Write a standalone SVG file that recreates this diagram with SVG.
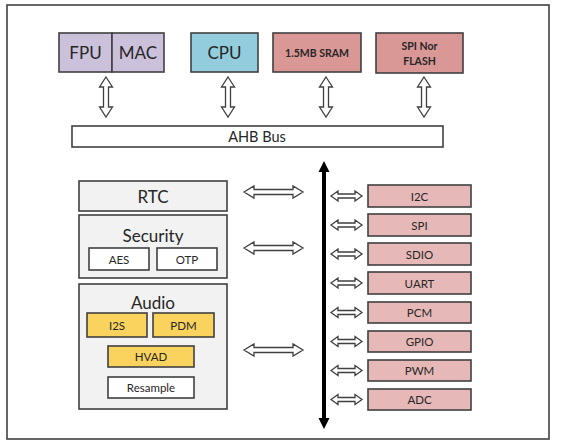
<svg xmlns="http://www.w3.org/2000/svg" width="567" height="448" viewBox="0 0 567 448">
<style>
text{font-family:Lato,"Open Sans","Liberation Sans",sans-serif;fill:#262626;text-anchor:middle;dominant-baseline:central}
.b{stroke:#404040;stroke-width:1.6}
.pur{fill:#CCC1DA}
.cyan{fill:#93CDDD}
.red{fill:#D99795}
.pink{fill:#E6B9B8}
.gray{fill:#F2F2F2}
.yel{fill:#FAD35E}
.wh{fill:#FFFFFF}
.ha{fill:#FFFFFF;stroke:#404040;stroke-width:1.3}
.big{font-size:17px}
.med{font-size:14.5px}
.sm{font-size:11.5px}
.bold{font-weight:bold;font-size:10.5px}
</style>
<rect x="0" y="0" width="567" height="448" fill="#FFFFFF"/>
<rect x="7" y="5" width="542" height="434" fill="none" stroke="#404040" stroke-width="1.6"/>
<g id="fpu"><rect class="b pur" x="59" y="33" width="53" height="39"/><text class="big" x="85.5" y="52.5">FPU</text></g>
<g id="mac"><rect class="b pur" x="112" y="33" width="52" height="39"/><text class="big" x="138" y="52.5">MAC</text></g>
<g id="cpu"><rect class="b cyan" x="191" y="33" width="67" height="39"/><text class="big" x="224.5" y="52.5">CPU</text></g>
<g id="sram"><rect class="b red" x="273" y="33" width="88" height="39"/><text class="bold" x="317" y="52.5">1.5MB SRAM</text></g>
<g id="flash"><rect class="b red" x="376" y="33" width="87" height="40"/><text class="bold" x="419.5" y="46">SPI Nor</text><text class="bold" x="419.5" y="61">FLASH</text></g>
<g id="ahb"><rect class="b wh" x="72" y="126" width="371" height="21"/><text class="med" x="257" y="136.5">AHB Bus</text></g>
<g id="rtc"><rect class="b gray" x="79" y="181" width="148" height="30"/><text class="big" x="153" y="196.5">RTC</text></g>
<g id="security"><rect class="b gray" x="79" y="215" width="148" height="63"/><text class="big" x="153" y="235">Security</text>
<g id="aes"><rect class="b wh" x="89" y="248" width="60" height="22"/><text class="sm" x="119" y="259">AES</text></g>
<g id="otp"><rect class="b wh" x="157" y="248" width="60" height="22"/><text class="sm" x="187" y="259">OTP</text></g></g>
<g id="audio"><rect class="b gray" x="79" y="284" width="148" height="125"/><text class="big" x="153" y="302">Audio</text>
<g id="i2s"><rect class="b yel" x="87" y="313" width="60" height="24"/><text class="sm" x="117" y="325">I2S</text></g>
<g id="pdm"><rect class="b yel" x="153" y="313" width="61" height="24"/><text class="sm" x="183.5" y="325">PDM</text></g>
<g id="hvad"><rect class="b yel" x="108" y="346" width="86" height="21"/><text class="sm" x="151" y="356.5">HVAD</text></g>
<g id="resample"><rect class="b wh" x="108" y="377" width="86" height="21"/><text class="sm" x="151" y="387.5">Resample</text></g></g>
<g id="i2c"><rect class="b pink" x="368" y="185" width="103" height="22"/><text class="sm" x="419.5" y="196">I2C</text></g>
<g id="spi"><rect class="b pink" x="368" y="214" width="103" height="22"/><text class="sm" x="419.5" y="225">SPI</text></g>
<g id="sdio"><rect class="b pink" x="368" y="243" width="103" height="22"/><text class="sm" x="419.5" y="254">SDIO</text></g>
<g id="uart"><rect class="b pink" x="368" y="272" width="103" height="22"/><text class="sm" x="419.5" y="283">UART</text></g>
<g id="pcm"><rect class="b pink" x="368" y="302" width="103" height="21"/><text class="sm" x="419.5" y="312.5">PCM</text></g>
<g id="gpio"><rect class="b pink" x="368" y="331" width="103" height="21"/><text class="sm" x="419.5" y="341.5">GPIO</text></g>
<g id="pwm"><rect class="b pink" x="368" y="360" width="103" height="21"/><text class="sm" x="419.5" y="370.5">PWM</text></g>
<g id="adc"><rect class="b pink" x="368" y="389" width="103" height="21"/><text class="sm" x="419.5" y="399.5">ADC</text></g>
<g id="connectors">
<path class="ha" d="M106 77 L112.5 87 L108.5 87 L108.5 107 L112.5 107 L106 117 L99.5 107 L103.5 107 L103.5 87 L99.5 87 Z"/>
<path class="ha" d="M228 77 L234.5 87 L230.5 87 L230.5 107 L234.5 107 L228 117 L221.5 107 L225.5 107 L225.5 87 L221.5 87 Z"/>
<path class="ha" d="M326 77 L332.5 87 L328.5 87 L328.5 107 L332.5 107 L326 117 L319.5 107 L323.5 107 L323.5 87 L319.5 87 Z"/>
<path class="ha" d="M424 77 L430.5 87 L426.5 87 L426.5 107 L430.5 107 L424 117 L417.5 107 L421.5 107 L421.5 87 L417.5 87 Z"/>
<path class="ha" d="M244 192 L254 186 L254 189.5 L293 189.5 L293 186 L303 192 L293 198 L293 194.5 L254 194.5 L254 198 Z"/>
<path class="ha" d="M244 248 L254 242 L254 245.5 L293 245.5 L293 242 L303 248 L293 254 L293 250.5 L254 250.5 L254 254 Z"/>
<path class="ha" d="M244 350 L254 344 L254 347.5 L293 347.5 L293 344 L303 350 L293 356 L293 352.5 L254 352.5 L254 356 Z"/>
<path fill="#000" d="M324 161 L329.5 172 L326 172 L326 418 L329.5 418 L324 429 L318.5 418 L322 418 L322 172 L318.5 172 Z"/>
<g id="parrows">
<path class="ha" d="M331 196 L338 191 L338 194 L355 194 L355 191 L362 196 L355 201 L355 198 L338 198 L338 201 Z"/>
<path class="ha" d="M331 225 L338 220 L338 223 L355 223 L355 220 L362 225 L355 230 L355 227 L338 227 L338 230 Z"/>
<path class="ha" d="M331 254 L338 249 L338 252 L355 252 L355 249 L362 254 L355 259 L355 256 L338 256 L338 259 Z"/>
<path class="ha" d="M331 283 L338 278 L338 281 L355 281 L355 278 L362 283 L355 288 L355 285 L338 285 L338 288 Z"/>
<path class="ha" d="M331 312.5 L338 307.5 L338 310.5 L355 310.5 L355 307.5 L362 312.5 L355 317.5 L355 314.5 L338 314.5 L338 317.5 Z"/>
<path class="ha" d="M331 341.5 L338 336.5 L338 339.5 L355 339.5 L355 336.5 L362 341.5 L355 346.5 L355 343.5 L338 343.5 L338 346.5 Z"/>
<path class="ha" d="M331 370.5 L338 365.5 L338 368.5 L355 368.5 L355 365.5 L362 370.5 L355 375.5 L355 372.5 L338 372.5 L338 375.5 Z"/>
<path class="ha" d="M331 399.5 L338 394.5 L338 397.5 L355 397.5 L355 394.5 L362 399.5 L355 404.5 L355 401.5 L338 401.5 L338 404.5 Z"/>
</g>
</g>
</svg>
